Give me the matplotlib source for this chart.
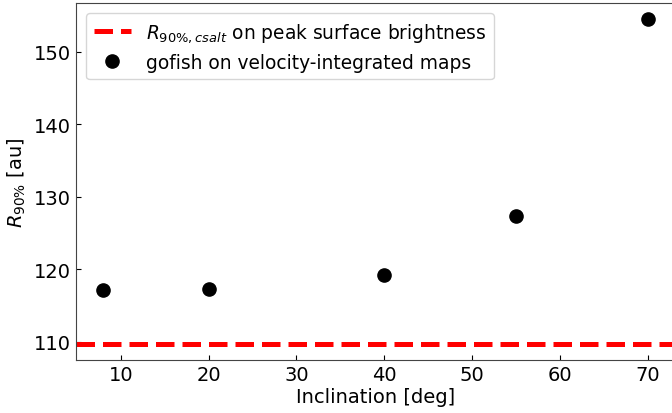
import matplotlib
matplotlib.use("Agg")
import matplotlib.pyplot as plt

inclination = [8, 20, 40, 55, 70]
r90_gofish = [117.1, 117.3, 119.2, 127.4, 154.5]
r90_csalt = 109.68

plt.rcParams['font.size'] = 14
fig = plt.figure(figsize=(6.72, 4.14), dpi=100)
ax = fig.add_axes([76/672, 1 - 361.3/414, (675 - 76)/672, (361.3 - 4)/414])

ax.axhline(r90_csalt, color='red', ls='--', lw=3.6,
           label=r'$R_{90\%, csalt}$ on peak surface brightness')
ax.plot(inclination, r90_gofish, 'o', color='black', markersize=9.5,
        label='gofish on velocity-integrated maps')

ax.set_xlabel('Inclination [deg]', fontsize=14, labelpad=2)
ax.set_ylabel(r'$R_{90\%}$ [au]', fontsize=14)
ax.tick_params(direction='in', labelsize=14)
ax.set_yticks([110, 120, 130, 140, 150])
ax.set_xticks([10, 20, 30, 40, 50, 60, 70])
for s in ax.spines.values():
    s.set_color('#444444')
ax.legend(loc='upper left', fontsize=13.4, borderaxespad=0.55)

fig.savefig('out.png', dpi=100)
